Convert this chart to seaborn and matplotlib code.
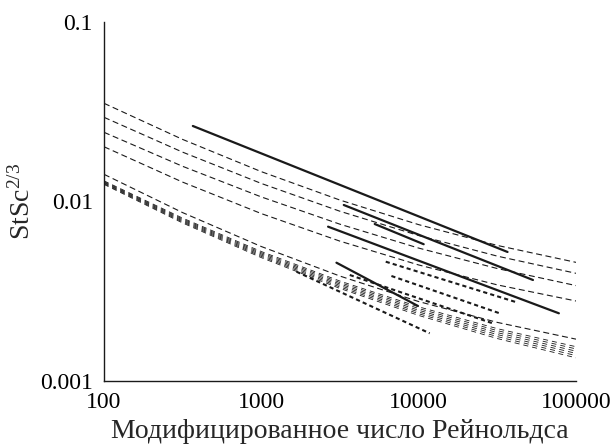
import numpy as np
import pandas as pd
import matplotlib
matplotlib.use("Agg")
import matplotlib.pyplot as plt
import seaborn as sns

# --- data ---
re_grid = [100, 316, 1000, 3162, 10000, 31623, 100000]

# thin dashed model curves (upper family)
curve_1 = [0.03524, 0.02217, 0.01466, 0.01018, 0.00743, 0.00569, 0.00458]
curve_2 = [0.02944, 0.01883, 0.01260, 0.00882, 0.00646, 0.00496, 0.00398]
curve_3 = [0.02429, 0.01570, 0.01060, 0.00747, 0.00550, 0.00423, 0.00340]
curve_4 = [0.02018, 0.01282, 0.00856, 0.00601, 0.00443, 0.00343, 0.00279]
curve_5 = [0.01417, 0.00867, 0.00561, 0.00384, 0.00277, 0.00212, 0.00171]

# lower bundle of dashed curves
bundle_1 = [0.01303, 0.008079, 0.005262, 0.003602, 0.002589, 0.001956, 0.001552]
bundle_2 = [0.01291, 0.007980, 0.005180, 0.003535, 0.002533, 0.001907, 0.001509]
bundle_3 = [0.01279, 0.007880, 0.005100, 0.003468, 0.002477, 0.001859, 0.001466]
bundle_4 = [0.01268, 0.007782, 0.005020, 0.003403, 0.002423, 0.001813, 0.001425]
bundle_5 = [0.01256, 0.007686, 0.004943, 0.003339, 0.002370, 0.001767, 0.001385]
bundle_6 = [0.01245, 0.007591, 0.004866, 0.003277, 0.002318, 0.001723, 0.001346]

# solid experimental correlations (start, end)
solid_re = [[367, 36700], [3342, 53250], [2655, 77800], [3002, 9900], [5256, 10760]]
solid_st = [[0.02634, 0.005233], [0.00956, 0.003653], [0.00724, 0.002383],
            [0.00456, 0.002617], [0.00749, 0.00578]]

# short-dashed correlations (start, end)
dotted_re = [[6174, 42720], [6709, 32690], [3647, 29500], [1673, 11745]]
dotted_st = [[0.00462, 0.00273], [0.003846, 0.002383], [0.003895, 0.002096],
             [0.004063, 0.001844]]

# --- style ---
sns.set_style("white")
plt.rcParams['font.family'] = ['Liberation Serif', 'DejaVu Serif']
plt.rcParams['mathtext.fontset'] = 'custom'
plt.rcParams['mathtext.rm'] = 'Liberation Serif'
plt.rcParams['mathtext.it'] = 'Liberation Serif:italic'

fig = plt.figure(figsize=(6.10, 4.47), dpi=100)
ax = fig.add_axes([0.1705, 0.1477, 0.7738, 0.8031])

ink = "#1a1a1a"

for ys in [curve_1, curve_2, curve_3, curve_4, curve_5]:
    sns.lineplot(x=re_grid, y=ys, ax=ax, color=ink, lw=0.8,
                 linestyle=(0, (5.4, 3.2)), sort=False, estimator=None)

for ys in [bundle_1, bundle_2, bundle_3, bundle_4, bundle_5, bundle_6]:
    sns.lineplot(x=re_grid, y=ys, ax=ax, color=ink, lw=0.6,
                 linestyle=(0, (6, 4.8)), sort=False, estimator=None)

for xs, ys in zip(solid_re, solid_st):
    sns.lineplot(x=xs, y=ys, ax=ax, color=ink, lw=1.6,
                 sort=False, estimator=None)

for xs, ys in zip(dotted_re, dotted_st):
    sns.lineplot(x=xs, y=ys, ax=ax, color=ink, lw=1.5,
                 linestyle=(0, (2, 1.5)), sort=False, estimator=None)

ax.set_xscale("log")
ax.set_yscale("log")
ax.set_xlim(100, 100000)
ax.set_ylim(0.001, 0.1)

ax.set_xticks([100, 1000, 10000, 100000])
ax.set_xticklabels(["100", "1000", "10000", "100000"])
ax.set_yticks([0.001, 0.01, 0.1])
ax.set_yticklabels(["0.001", "0.01", "0.1"])
ax.minorticks_off()
ax.tick_params(axis="both", direction="in", length=6.5, width=1.0,
               colors=ink, labelsize=17, pad=8)
ax.tick_params(axis="both", labelcolor="black")

for side in ["top", "right"]:
    ax.spines[side].set_visible(False)
for side in ["left", "bottom"]:
    ax.spines[side].set_color(ink)
    ax.spines[side].set_linewidth(1.0)

ax.set_xlabel("Модифицированное число Рейнольдса", fontsize=20, labelpad=4)
ax.set_ylabel(r"StSc$^{2/3}$", fontsize=20, labelpad=3)

fig.savefig("out.png", dpi=100)
